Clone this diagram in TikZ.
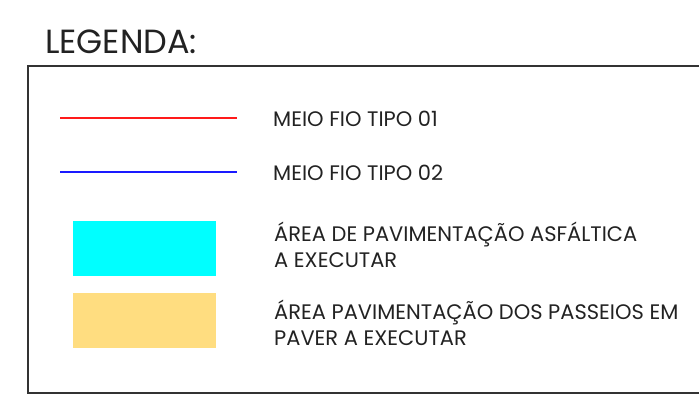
\documentclass[tikz,border=0pt]{standalone}
\usepackage{fontspec}
\setmainfont{Poppins}
\definecolor{framegray}{HTML}{333333}
\definecolor{redline}{HTML}{FF1A1A}
\definecolor{blueline}{HTML}{1A1AFF}
\definecolor{cyanfill}{HTML}{00FFFF}
\definecolor{sandfill}{HTML}{FFDD80}
\definecolor{txt}{HTML}{222222}
\begin{document}
\begin{tikzpicture}[x=1pt,y=-1pt,
  lbl/.style={anchor=base west,inner sep=0pt,text=txt,font=\fontsize{21}{25.5}\selectfont,align=left},
  swatch/.style={line width=2pt},
  patch/.style={draw=none}]
\useasboundingbox (0,0) rectangle (699,405);
\node[anchor=base west,inner sep=0pt,text=txt,font=\fontsize{33.5}{34}\selectfont] (title) at (45,53) {LEGENDA:};
\draw[framegray,line width=1.6pt] (710,66) -- (28,66) -- (28,393) -- (710,393);
\coordinate (r1) at (60,118); \coordinate (r2) at (237,118);
\draw[redline,swatch] (r1) -- (r2);
\coordinate (b1) at (60,172); \coordinate (b2) at (237,172);
\draw[blueline,swatch] (b1) -- (b2);
\fill[cyanfill] (73,221) rectangle (216,276);
\fill[sandfill] (73,293) rectangle (216,348);
\node[lbl] (t1) at (273,126) {MEIO FIO TIPO 01};
\node[lbl] (t2) at (273,180) {MEIO FIO TIPO 02};
\node[lbl] (t3) at (274,267) {ÁREA DE PAVIMENTAÇÃO ASFÁLTICA\\A EXECUTAR};
\node[lbl] (t4) at (274,345) {ÁREA PAVIMENTAÇÃO DOS PASSEIOS EM\\PAVER A EXECUTAR};
\end{tikzpicture}
\end{document}
